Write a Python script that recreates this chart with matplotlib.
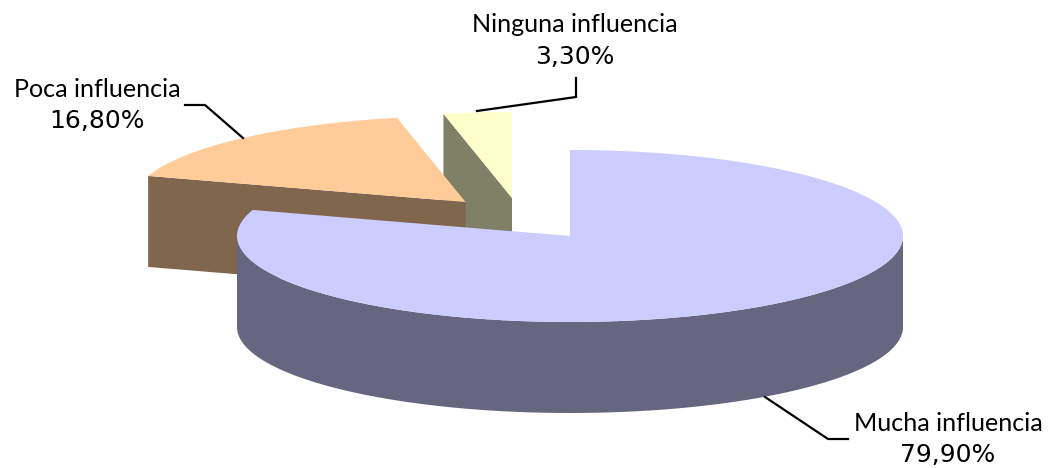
import numpy as np
from matplotlib import pyplot as plt
from matplotlib.patches import Polygon

labels = ["Mucha influencia", "Poca influencia", "Ninguna influencia"]
values = [79.9, 16.8, 3.3]
value_labels = ["79,90%", "16,80%", "3,30%"]
top_colors = ["#CCCCFF", "#FFCC99", "#FFFFCC"]
side_colors = ["#666680", "#80664D", "#808066"]

# pixel geometry of the pie
rx, ry, depth = 333, 86, 91
centers = [(570, 236), (465.5, 202), (512, 198)]
# x centre, name baseline, value baseline
label_pos = [(948, 431, 462), (97, 97, 128), (575, 32, 64)]
leaders = [
    [(765, 397), (828, 439), (848, 439)],
    [(243, 138), (205, 105), (185, 105)],
    [(477, 111), (576, 97), (576, 78)],
]


def ell(c, a):
    # y axis points down in pixel space, angles are clockwise from 12 o'clock
    return np.column_stack([c[0] + rx * np.sin(a), c[1] - ry * np.cos(a)])


plt.rcParams["font.family"] = ["Lato", "DejaVu Sans"]
fig = plt.figure(figsize=(10.5, 4.68), dpi=100)
ax = fig.add_axes([0, 0, 1, 1])
ax.set_xlim(0, 1050)
ax.set_ylim(468, 0)
ax.axis("off")

ends = np.cumsum(values) / sum(values) * 2 * np.pi
starts = np.r_[0, ends[:-1]]

# back slices first so the big one covers them
for i in [2, 1, 0]:
    c = centers[i]
    arc = ell(c, np.linspace(starts[i], ends[i], 300))
    if i == 0:
        # outer wall, only the front half of the ellipse shows
        front = ell(c, np.linspace(np.pi / 2, 3 * np.pi / 2, 200))
        wall = np.vstack([front, front[::-1] + [0, depth]])
        ax.add_patch(Polygon(wall, fc=side_colors[i], ec="none", zorder=3))
    else:
        # radial face towards the viewer
        p = arc[0]
        face = [p, c, (c[0], c[1] + depth), (p[0], p[1] + depth)]
        ax.add_patch(Polygon(face, fc=side_colors[i], ec="none", zorder=3 - i))
    top = np.vstack([[c], arc])
    ax.add_patch(Polygon(top, fc=top_colors[i], ec="none", zorder=3.5 - i))

for i in range(3):
    x, y1, y2 = label_pos[i]
    ax.text(x, y1, labels[i], ha="center", va="baseline", fontsize=18.1, color="black", zorder=10)
    ax.text(x, y2, value_labels[i], ha="center", va="baseline", fontsize=18,
            family="DejaVu Sans", color="black", zorder=10)
    ax.plot(*zip(*leaders[i]), color="black", lw=1.6, zorder=9, solid_joinstyle="miter")

fig.savefig("out.png", dpi=100)
